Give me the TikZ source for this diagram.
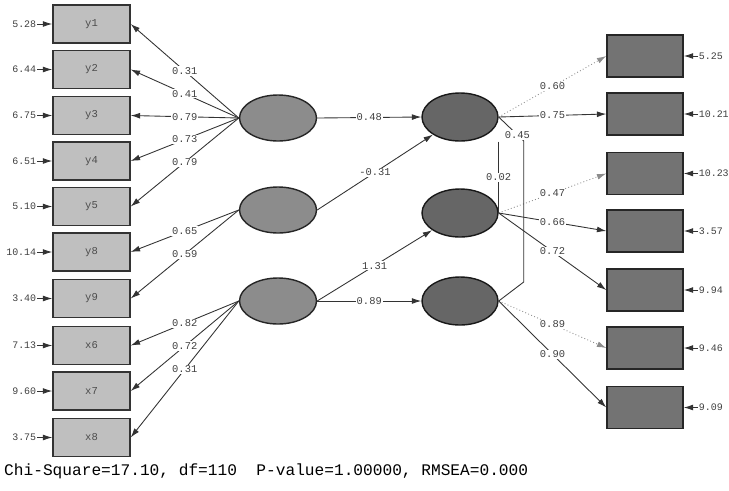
\documentclass[tikz,border=0pt]{standalone}
\usepackage{fontspec}
\setmonofont{Liberation Mono}
\usetikzlibrary{arrows.meta,shapes.geometric}

\tikzset{
  obsL/.style={rectangle, draw=black!80, line width=1.2pt, fill=black!25, minimum width=2.31cm, minimum height=1.14cm, inner sep=0pt, font=\ttfamily\fontsize{9}{10}\selectfont, text=black!70},
  obsR/.style={rectangle, draw=black!85, line width=1.2pt, fill=black!55, minimum width=2.28cm, minimum height=1.26cm, inner sep=0pt},
  latL/.style={ellipse, draw=black!85, line width=1.2pt, fill=black!45, minimum width=2.31cm, minimum height=1.38cm, inner sep=0pt},
  latM/.style={ellipse, draw=black!90, line width=1.2pt, fill=black!60, minimum width=2.28cm, minimum height=1.44cm, inner sep=0pt},
  lbl/.style={font=\ttfamily\fontsize{8.9}{10}\selectfont, fill=white, inner sep=1pt, text=black!75},
  errtxt/.style={font=\ttfamily\fontsize{8.5}{10}\selectfont, inner sep=0.5pt, text=black!75},
  lnk/.style={->, draw=black!80, line width=0.75pt},
  lnkdot/.style={->, draw=black!45, line width=0.75pt, dotted},
  corr/.style={draw=black!80, line width=0.75pt}
}

\begin{document}
\begin{tikzpicture}[x=0.03cm, y=-0.03cm, >={Latex[length=8pt,width=5pt]}]
\useasboundingbox (0,0) rectangle (729,490);

% observed variables, left
\node [obsL] (y1) at (91.5,24) {y1};
\node [obsL] (y2) at (91.5,69.5) {y2};
\node [obsL] (y3) at (91.5,115.5) {y3};
\node [obsL] (y4) at (91.5,161) {y4};
\node [obsL] (y5) at (91.5,206.5) {y5};
\node [obsL] (y8) at (91.5,252) {y8};
\node [obsL] (y9) at (91.5,298.5) {y9};
\node [obsL] (x6) at (91.5,345.5) {x6};
\node [obsL] (x7) at (91.5,391) {x7};
\node [obsL] (x8) at (91.5,437.5) {x8};

\node [errtxt, anchor=east] (ey1) at (37,24) {5.28};
\node [errtxt, anchor=east] (ey2) at (37,69.5) {6.44};
\node [errtxt, anchor=east] (ey3) at (37,115.5) {6.75};
\node [errtxt, anchor=east] (ey4) at (37,161) {6.51};
\node [errtxt, anchor=east] (ey5) at (37,206.5) {5.10};
\node [errtxt, anchor=east] (ey8) at (37,252) {10.14};
\node [errtxt, anchor=east] (ey9) at (37,298.5) {3.40};
\node [errtxt, anchor=east] (ex6) at (37,345.5) {7.13};
\node [errtxt, anchor=east] (ex7) at (37,391) {9.60};
\node [errtxt, anchor=east] (ex8) at (37,437.5) {3.75};
\draw [lnk] (ey1) -- (y1);
\draw [lnk] (ey2) -- (y2);
\draw [lnk] (ey3) -- (y3);
\draw [lnk] (ey4) -- (y4);
\draw [lnk] (ey5) -- (y5);
\draw [lnk] (ey8) -- (y8);
\draw [lnk] (ey9) -- (y9);
\draw [lnk] (ex6) -- (x6);
\draw [lnk] (ex7) -- (x7);
\draw [lnk] (ex8) -- (x8);

% latent variables
\node [latL] (f1) at (278,118) {};
\node [latL] (f2) at (278,210) {};
\node [latL] (f3) at (278,301) {};
\node [latM] (m1) at (460,117) {};
\node [latM] (m2) at (460,213) {};
\node [latM] (m3) at (460,301) {};

\draw [lnk] (f1.west) -- node[lbl] {0.31} (y1.east);
\draw [lnk] (f1.west) -- node[lbl] {0.41} (y2.east);
\draw [lnk] (f1.west) -- node[lbl] {0.79} (y3.east);
\draw [lnk] (f1.west) -- node[lbl] {0.73} (y4.east);
\draw [lnk] (f1.west) -- node[lbl] {0.79} (y5.east);
\draw [lnk] (f2.west) -- node[lbl] {0.65} (y8.east);
\draw [lnk] (f2.west) -- node[lbl] {0.59} (y9.east);
\draw [lnk] (f3.west) -- node[lbl] {0.82} (x6.east);
\draw [lnk] (f3.west) -- node[lbl] {0.72} (x7.east);
\draw [lnk] (f3.west) -- node[lbl] {0.31} (x8.east);

\draw [lnk] (f1.east) -- node[lbl] {0.48} (m1.west);
\draw [lnk] (f2.east) -- node[lbl] {-0.31} (m1);
\draw [lnk] (f3.east) -- node[lbl] {1.31} (m2);
\draw [lnk] (f3.east) -- node[lbl] {0.89} (m3.west);

% observed variables, right
\node [obsR] (r1) at (645,56) {};
\node [obsR] (r2) at (645,114) {};
\node [obsR] (r3) at (645,173.5) {};
\node [obsR] (r4) at (645,231) {};
\node [obsR] (r5) at (645,290) {};
\node [obsR] (r6) at (645,348) {};
\node [obsR] (r7) at (645,407.5) {};

\node [errtxt, anchor=west] (er1) at (698,56) {5.25};
\node [errtxt, anchor=west] (er2) at (698,114) {10.21};
\node [errtxt, anchor=west] (er3) at (698,173.5) {10.23};
\node [errtxt, anchor=west] (er4) at (698,231) {3.57};
\node [errtxt, anchor=west] (er5) at (698,290) {9.94};
\node [errtxt, anchor=west] (er6) at (698,348) {9.46};
\node [errtxt, anchor=west] (er7) at (698,407.5) {9.09};
\draw [lnk] (er1) -- (r1);
\draw [lnk] (er2) -- (r2);
\draw [lnk] (er3) -- (r3);
\draw [lnk] (er4) -- (r4);
\draw [lnk] (er5) -- (r5);
\draw [lnk] (er6) -- (r6);
\draw [lnk] (er7) -- (r7);

\draw [lnkdot] (m1.east) -- node[lbl] {0.60} (r1.west);
\draw [lnk] (m1.east) -- node[lbl] {0.75} (r2.west);
\draw [lnkdot] (m2.east) -- node[lbl] {0.47} (r3.west);
\draw [lnk] (m2.east) -- node[lbl] {0.66} (r4.west);
\draw [lnk] (m2.east) -- node[lbl] {0.72} (r5.west);
\draw [lnkdot] (m3.east) -- node[lbl] {0.89} (r6.west);
\draw [lnk] (m3.east) -- node[lbl] {0.90} (r7.west);

% correlations
\draw [corr] (m1.east |- m1.south) -- node[lbl] {0.02} (m2.east);
\draw [corr] (m1.east) -- node[lbl, pos=0.75] {0.45} ++(25,24) -- ++(0,141) -- (m3.east);

\node [anchor=west, inner sep=0pt, font=\ttfamily\fontsize{13.8}{15}\selectfont] (fit) at (4,471) {Chi-Square=17.10, df=110\ \ P-value=1.00000, RMSEA=0.000};
\end{tikzpicture}
\end{document}
